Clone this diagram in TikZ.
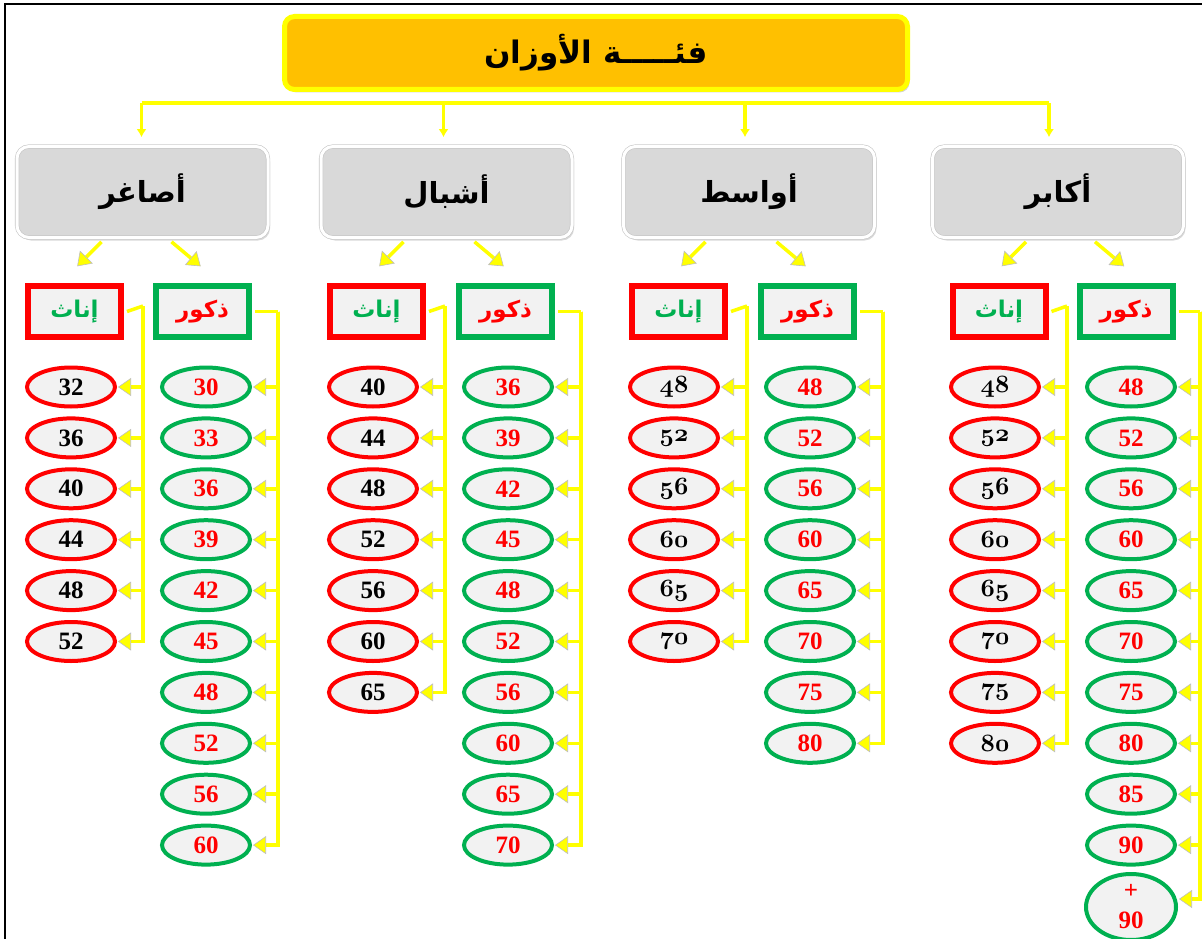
\documentclass[tikz,border=0pt]{standalone}
\usepackage{fontspec}
\setmainfont{Liberation Serif}
\newfontfamily\arabicfont[Script=Arabic]{DejaVu Sans}
\TeXXeTstate=1
\usetikzlibrary{shapes.geometric,arrows.meta,shadows}

\definecolor{titleOrange}{HTML}{FFC000}
\definecolor{barYellow}{HTML}{FFFF00}
\definecolor{catGray}{HTML}{D9D9D9}
\definecolor{boxFill}{HTML}{F2F2F2}
\definecolor{fRed}{HTML}{FF0000}
\definecolor{mGreen}{HTML}{00B050}

\newcommand\oldfont{\usefont{OML}{cmm}{b}{it}\fontsize{24.88}{26}\selectfont}

\begin{document}
\begin{tikzpicture}[x=1pt,y=-1pt,
  yl/.style={draw=barYellow,line width=3.5pt},
  ylarr/.style={yl,-{Triangle[width=18pt,length=13pt,fill=barYellow,color=gray!50,line width=0.6pt]},shorten >=1pt},
  titlebox/.style={rounded corners=10pt,fill=titleOrange,draw=barYellow,line width=5pt,
    minimum width=623pt,minimum height=73pt,
    drop shadow={opacity=0.35,shadow xshift=2pt,shadow yshift=-3pt},
    font=\arabicfont\bfseries\fontsize{31}{36}\selectfont},
  catbox/.style={rounded corners=12pt,fill=catGray,draw=gray!45,double=white,double distance=3pt,
    line width=0.6pt,minimum width=251pt,minimum height=91pt,
    drop shadow={opacity=0.3,shadow xshift=2pt,shadow yshift=-3pt},
    font=\arabicfont\bfseries\fontsize{29}{34}\selectfont},
  fbox/.style={draw=fRed,line width=6pt,fill=boxFill,minimum width=93pt,minimum height=51pt,
    text=mGreen,font=\arabicfont\bfseries\fontsize{23}{26}\selectfont},
  mbox/.style={fbox,draw=mGreen,text=fRed},
  fell/.style={ellipse,draw=fRed,line width=4pt,fill=boxFill,minimum width=88pt,minimum height=39pt,
    inner sep=0pt,font=\bfseries\fontsize{25}{25}\selectfont},
  fellold/.style={fell,font=\oldfont},
  mell/.style={fell,draw=mGreen,text=fRed}]
  \useasboundingbox (0,0) rectangle (1202,939);
  % frame
  \draw[line width=2pt] (5,939) -- (5,4) -- (1202,4);

  % title and groups
  \node[titlebox] (title) at (596,53) {\beginR فئـــــة الأوزان\endR};
  \node[catbox] (asaghir) at (142.5,192) {\beginR أصاغر\endR};
  \node[catbox] (ashbal) at (446.5,192) {\beginR أشبال\endR};
  \node[catbox] (awasit) at (749,192) {\beginR أواسط\endR};
  \node[catbox] (akabir) at (1058,192) {\beginR أكابر\endR};

  \coordinate (bar) at (0,103);
  \draw[yl] ([xshift=-1pt]asaghir.north |- bar) -- ([xshift=-9pt]akabir.north |- bar);
  \foreach \c/\dx in {asaghir/-1,ashbal/-3,awasit/-4,akabir/-9}
    \draw[yl,-{Latex[length=8pt,width=10pt]}] ([xshift=\dx pt]\c.north |- bar) -- ([xshift=\dx pt,yshift=9pt]\c.north);

  % girls / boys boxes
  \foreach \c/\fx/\mx in {asaghir/74.5/202.5,ashbal/376.5/505.5,awasit/678.5/807.5,akabir/999/1126} {
    \node[fbox] (\c-f) at (\fx,311.5) {\beginR إناث\endR};
    \node[mbox] (\c-m) at (\mx,311.5) {\beginR ذكور\endR};
    \draw[ylarr] ([xshift=27pt,yshift=-4pt]\c-f.north |- \c.south) -- ([xshift=2pt,yshift=16pt]\c-f.north);
    \draw[ylarr] ([xshift=-31pt,yshift=-4pt]\c-m.north |- \c.south) -- ([xshift=-1pt,yshift=16pt]\c-m.north);
  }

  % weights, girls
  \foreach \c/\ex/\bx/\st/\vals in {asaghir/71/143/fell/{32,36,40,44,48,52},
      ashbal/373/445/fell/{40,44,48,52,56,60,65},
      awasit/674/747/fellold/{48,52,56,60,65,70},
      akabir/995/1067/fellold/{48,52,56,60,65,70,75,80}} {
    \coordinate (\c-fx) at (\bx,306);
    \draw[yl] ([xshift=3pt]\c-f.east) -- (\c-fx);
    \foreach \v [count=\i] in \vals {
      \node[\st] (\c-f\i) at (\ex,{387+50.9*(\i-1)}) {\v};
      \draw[ylarr] (\c-fx) |- (\c-f\i.east);
    }
  }

  % weights, boys
  \foreach \c/\ex/\bx/\vals in {asaghir/206/278/{30,33,36,39,42,45,48,52,56,60},
      ashbal/508/581/{36,39,42,45,48,52,56,60,65,70},
      awasit/810/883/{48,52,56,60,65,70,75,80},
      akabir/1131/1200/{48,52,56,60,65,70,75,80,85,90}} {
    \coordinate (\c-mx) at (\bx,311.5);
    \draw[yl] ([xshift=3pt]\c-m.east) -- (\c-mx);
    \foreach \v [count=\i] in \vals {
      \node[mell] (\c-m\i) at (\ex,{387+50.9*(\i-1)}) {\v};
      \draw[ylarr] (\c-mx) |- (\c-m\i.east);
    }
  }
  \node[mell,minimum width=90pt,minimum height=66pt,align=center] (akabir-m11) at (1131,907) {+\\[5pt]90};
  \draw[ylarr] (akabir-mx) |- ([yshift=8pt]akabir-m11.east);
\end{tikzpicture}
\end{document}
